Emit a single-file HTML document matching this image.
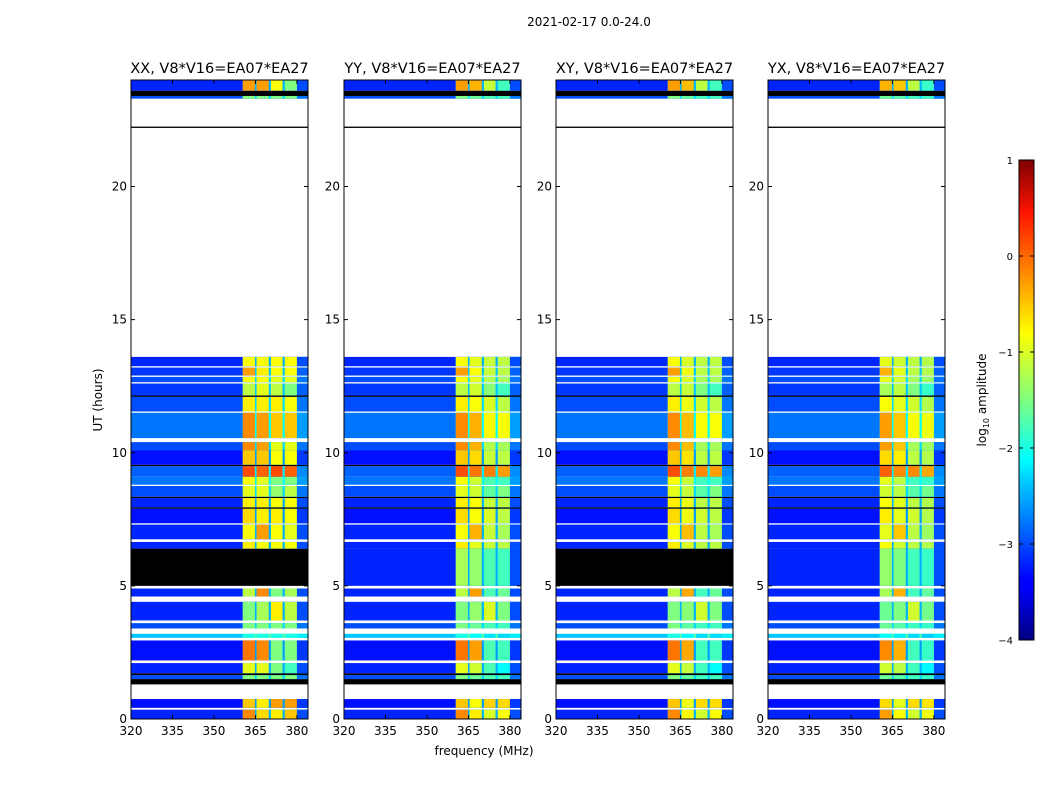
<!DOCTYPE html>
<html><head><meta charset="utf-8"><style>
body{margin:0;background:#fff;font-family:"DejaVu Sans","Liberation Sans",sans-serif;}
svg text{font-family:"DejaVu Sans","Liberation Sans",sans-serif;}
</style></head><body>
<svg id="fig" width="1050" height="800" viewBox="0 0 1050 800">
<defs>
<linearGradient id="jet" x1="0" y1="1" x2="0" y2="0">
<stop offset="0" stop-color="#00007f"/><stop offset="0.11" stop-color="#0000ff"/>
<stop offset="0.125" stop-color="#0000ff"/><stop offset="0.34" stop-color="#00d4ff"/>
<stop offset="0.375" stop-color="#00ffff"/><stop offset="0.5" stop-color="#7fff7f"/>
<stop offset="0.64" stop-color="#ffff00"/><stop offset="0.89" stop-color="#ff1400"/>
<stop offset="1" stop-color="#7f0000"/></linearGradient>
</defs>
<text x="589" y="26" font-size="12" text-anchor="middle">2021-02-17 0.0-24.0</text>
<text x="484" y="755" font-size="12" text-anchor="middle">frequency (MHz)</text>
<text x="102" y="400" font-size="12" text-anchor="middle" transform="rotate(-90 102 400)">UT (hours)</text>
<g id="panels"></g>
<g>
<rect x="1019" y="160" width="15" height="480" fill="url(#jet)" stroke="#000" stroke-width="1"/>
<g id="cbticks"></g>
<text x="986" y="400" font-size="12" text-anchor="middle" transform="rotate(-90 986 400)">log<tspan font-size="8" dy="3">10</tspan><tspan dy="-3"> amplitude</tspan></text>
</g>
</svg>
<script>
// ---- data ----
const panelTitles = ["XX, V8*V16=EA07*EA27","YY, V8*V16=EA07*EA27","XY, V8*V16=EA07*EA27","YX, V8*V16=EA07*EA27"];
const xTicks = [320,335,350,365,380];
const yTicks = [0,5,10,15,20];
const cbTicks = [1,0,-1,-2,-3,-4];
// frequency bands (MHz) of the strong signal
const bandStart = [360.4,365.4,370.6,375.6];
const bandEnd   = [364.8,369.8,374.8,380.0];
// time segments: start, end (hours), kind (d=data, w=blank, k=black)
const segStart = [0,0.35,0.42,0.75,1.3,1.5,1.65,1.72,2.1,2.2,2.95,3.05,3.2,3.4,3.6,3.7,4.4,4.6,4.9,5.0,6.4,6.65,6.75,7.3,7.35,7.9,7.95,8.3,8.35,8.75,8.8,9.1,9.5,9.55,10.1,10.4,10.55,11.5,11.55,12.1,12.15,12.6,12.65,12.85,12.9,13.2,13.25,13.6,22.2,22.25,23.3,23.4,23.6];
const segEnd   = [0.35,0.42,0.75,1.3,1.5,1.65,1.72,2.1,2.2,2.95,3.05,3.2,3.4,3.6,3.7,4.4,4.6,4.9,5.0,6.4,6.65,6.75,7.3,7.35,7.9,7.95,8.3,8.35,8.75,8.8,9.1,9.5,9.55,10.1,10.4,10.55,11.5,11.55,12.1,12.15,12.6,12.65,12.85,12.9,13.2,13.25,13.6,22.2,22.25,23.3,23.4,23.6,24];
const segKind  = ["d","w","d","w","k","d","k","d","w","d","w","d","w","d","w","d","w","d","w","x","d","w","d","w","d","k","d","k","d","w","d","d","k","d","d","w","d","w","d","k","d","w","d","w","d","w","d","w","k","w","d","k","d"];
// log10 amplitude: background and per band
const segBg = [-3.2,0,-3.3,0,0,-3.0,0,-3.2,0,-3.3,0,-2.4,0,-3.0,0,-3.2,0,-3.2,0,-3.2,-3.2,0,-3.2,0,-3.3,0,-3.2,0,-3.0,0,-2.8,-2.9,0,-3.3,-3.0,0,-2.8,0,-3.0,0,-3.1,0,-3.0,0,-3.1,0,-3.2,0,0,0,-3.0,0,-3.2];
const segB1 = [-0.3,0,-0.6,0,0,-1.5,0,-1.0,0,-0.2,0,-2,0,-1.5,0,-1.5,0,-1.2,0,-1.3,-0.8,0,-0.9,0,-0.7,0,-0.8,0,-1.0,0,-0.9,0,0,-0.6,-0.3,0,-0.3,0,-0.8,0,-1.2,0,-0.9,0,-0.4,0,-0.9,0,0,0,-1.5,0,-0.4];
const segB2 = [-0.7,0,-0.8,0,0,-1.5,0,-1.0,0,-0.3,0,-2,0,-1.5,0,-1.3,0,-0.3,0,-1.3,-0.9,0,-0.4,0,-0.8,0,-0.8,0,-1.0,0,-1.0,-0.1,0,-0.6,-0.4,0,-0.4,0,-0.8,0,-1.0,0,-0.9,0,-0.8,0,-0.9,0,0,0,-1.5,0,-0.4];
const segB3 = [-0.8,0,-0.4,0,0,-1.5,0,-1.5,0,-1.5,0,-2,0,-1.5,0,-0.8,0,-1.5,0,-1.5,-0.9,0,-0.9,0,-0.8,0,-0.9,0,-1.4,0,-1.5,0,0,-0.9,-1.0,0,-0.6,0,-0.8,0,-1.2,0,-1.0,0,-0.9,0,-0.9,0,0,0,-1.5,0,-0.9];
const segB4 = [-0.6,0,-0.4,0,0,-1.5,0,-1.8,0,-1.5,0,-2,0,-1.5,0,-1.2,0,-1.3,0,-1.5,-0.9,0,-1.0,0,-0.9,0,-0.9,0,-1.2,0,-1.5,-0.1,0,-0.9,-1.0,0,-0.6,0,-0.9,0,-1.5,0,-1.0,0,-0.9,0,-0.9,0,0,0,-1.5,0,-1.5];
// per-panel band offsets and whether the 5.0-6.4h block is flagged black
const panelOffset = [[0,0,0,0],[0,-0.1,-0.25,-0.3],[0,-0.15,-0.3,-0.3],[-0.1,-0.2,-0.3,-0.35]];
const panelBlack = [true,false,true,false];

const px0=[131,344,556,768], PW=177, PT=80, PB=719, FMIN=320, FMAX=384;
function xs(p,f){return px0[p]+(f-FMIN)/(FMAX-FMIN)*PW;}
function ys(h){return PB-(h/24)*(PB-PT);}
function cy(v){return 640-(v+4)/5*480;}
function jet(v){
  let t=Math.max(0,Math.min(1,(v+4)/5));
  const r=Math.max(0,Math.min(1,1.5-Math.abs(4*t-3))),g=Math.max(0,Math.min(1,1.5-Math.abs(4*t-2))),b=Math.max(0,Math.min(1,1.5-Math.abs(4*t-1)));
  return `rgb(${Math.round(r*255)},${Math.round(g*255)},${Math.round(b*255)})`;
}
const NS="http://www.w3.org/2000/svg";
function el(tag,attrs,parent){const e=document.createElementNS(NS,tag);for(const k in attrs)e.setAttribute(k,attrs[k]);parent.appendChild(e);return e;}
const root=document.getElementById('panels');
for(let p=0;p<4;p++){
  const g=el('g',{},root);
  
  
  const t=el('text',{x:px0[p]+PW/2,y:73,'font-size':14.5,'text-anchor':'middle'},g);t.textContent=panelTitles[p];
  
  
  for(let i=0;i<segStart.length;i++){
    let kind=segKind[i];
    if(kind==='x')kind=panelBlack[p]?'k':'d';
    const y1=ys(segEnd[i]),y2=ys(segStart[i]),h=y2-y1;
    if(kind==='w')continue;
    if(kind==='k'){const r=el('rect',{x:px0[p],y:y1,width:PW,height:h,fill:'#000'},g);
      
      continue;}
    const bg=segBg[i];
    const r=el('rect',{x:px0[p],y:y1,width:PW,height:h,fill:jet(bg)},g);
    
    
    const r2=el('rect',{x:xs(p,360.4),y:y1,width:xs(p,384)-xs(p,360.4),height:h,fill:jet(bg+0.7)},g);
    
    
    const bands=[segB1[i],segB2[i],segB3[i],segB4[i]];
    for(let b=0;b<4;b++){
      const c=el('rect',{x:xs(p,bandStart[b]),y:y1,width:xs(p,bandEnd[b])-xs(p,bandStart[b]),height:h,fill:jet(bands[b]+panelOffset[p][b])},g);
      
      
    }
    const r3=el('rect',{x:xs(p,380),y:y1,width:xs(p,384)-xs(p,380),height:h,fill:jet(bg+0.2)},g);
    
    
  }
  const fr=el('rect',{x:px0[p],y:PT,width:PW,height:PB-PT,fill:'none',stroke:'#000','stroke-width':1},g);
  
  
  for(const v of xTicks){const x=xs(p,v);
    el('line',{x1:x,x2:x,y1:PB,y2:PB-4,stroke:'#000'},g);el('line',{x1:x,x2:x,y1:PT,y2:PT+4,stroke:'#000'},g);
    const tx=el('text',{x:x,y:PB+16,'font-size':12,'text-anchor':'middle'},g);tx.textContent=v;
    
    }
  for(const v of yTicks){const y=ys(v);
    el('line',{x1:px0[p],x2:px0[p]+4,y1:y,y2:y,stroke:'#000'},g);el('line',{x1:px0[p]+PW,x2:px0[p]+PW-4,y1:y,y2:y,stroke:'#000'},g);
    const ty=el('text',{x:px0[p]-4,y:y+4,'font-size':12,'text-anchor':'end'},g);ty.textContent=v;
    
    }
}
const cbg=document.getElementById('cbticks');
for(const v of cbTicks){const y=cy(v);
  el('line',{x1:1019,x2:1023,y1:y,y2:y,stroke:'#000'},cbg);el('line',{x1:1034,x2:1030,y1:y,y2:y,stroke:'#000'},cbg);
  const t=el('text',{x:1013,y:y+4,'font-size':10,'text-anchor':'end'},cbg);t.textContent=(v<0?'\u2212'+(-v):v);
  
  }
</script>
</body></html>
